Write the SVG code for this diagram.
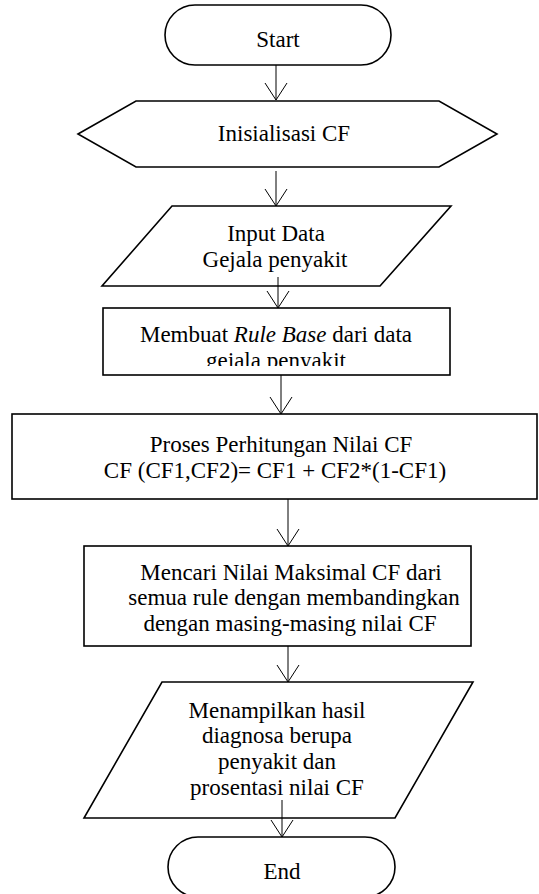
<svg xmlns="http://www.w3.org/2000/svg" width="539" height="894" viewBox="0 0 539 894">
<style>
.s{fill:#fff;stroke:#000;stroke-width:1.6}
.c{fill:none;stroke:#000;stroke-width:1}
text{font-family:"Liberation Serif","Times New Roman",serif;font-size:23px;fill:#000;text-anchor:middle}
</style>
<defs>
<clipPath id="rc"><rect x="103" y="308" width="347" height="58"/></clipPath>
</defs>
<rect width="539" height="894" fill="#fff"/>
<g id="start">
<rect class="s" x="165" y="5" width="226" height="60" rx="30" ry="30"/>
<text x="278" y="47">Start</text>
</g>
<g id="init">
<polygon class="s" points="78,134 136,101 439,101 497,134 439,167 136,167"/>
<text x="284" y="141">Inisialisasi CF</text>
</g>
<g id="input">
<polygon class="s" points="172,206 451,206 380,286 102,286"/>
<text x="276" y="241">Input Data</text>
<text x="275" y="267">Gejala penyakit</text>
</g>
<g id="rule">
<rect class="s" x="103" y="308" width="347" height="67"/>
<text x="276" y="342">Membuat <tspan font-style="italic">Rule Base</tspan> dari data</text>
<text x="276" y="368" clip-path="url(#rc)">gejala penyakit</text>
</g>
<g id="proses">
<rect class="s" x="12" y="414" width="525" height="85"/>
<text x="281" y="452">Proses Perhitungan Nilai CF</text>
<text x="275" y="478">CF (CF1,CF2)= CF1 + CF2*(1-CF1)</text>
</g>
<g id="mencari">
<rect class="s" x="84" y="546" width="387" height="100"/>
<text x="291" y="580">Mencari Nilai Maksimal CF dari</text>
<text x="294" y="605">semua rule dengan membandingkan</text>
<text x="290" y="631">dengan masing-masing nilai CF</text>
</g>
<g id="output">
<polygon class="s" points="162,682 473,682 395,818 84,818"/>
<text x="277" y="718">Menampilkan hasil</text>
<text x="277" y="743">diagnosa berupa</text>
<text x="277" y="769">penyakit dan</text>
<text x="277" y="795">prosentasi nilai CF</text>
</g>
<g id="end">
<rect class="s" x="168" y="837" width="227" height="60" rx="30" ry="30"/>
<text x="282" y="879">End</text>
</g>
<g id="connectors">
<path class="c" d="M276,65V100M265,83L276,100L287,83"/>
<path class="c" d="M276,171V206M265,189L276,206L287,189"/>
<path class="c" d="M278,277V308M267,291L278,308L289,291"/>
<path class="c" d="M281,375V414M270,397L281,414L292,397"/>
<path class="c" d="M288,499V546M277,529L288,546L299,529"/>
<path class="c" d="M288,646V682M277,665L288,682L299,665"/>
<path class="c" d="M282,800V837M271,820L282,837L293,820"/>
</g>
</svg>
